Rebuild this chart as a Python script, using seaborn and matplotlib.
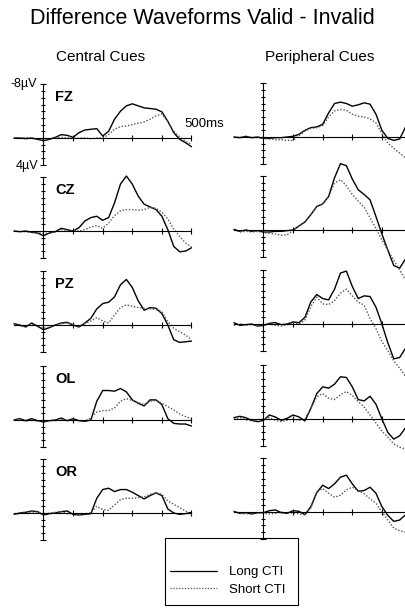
import pandas as pd
import matplotlib.pyplot as plt
from matplotlib.lines import Line2D
from matplotlib.patches import Rectangle
import seaborn as sns

# time base (ms) of every waveform below
times = list(range(-100, 501, 20))

electrodes = ["FZ", "CZ", "PZ", "OL", "OR"]
cues = ["Central Cues", "Peripheral Cues"]
conditions = ["Long CTI", "Short CTI"]

# difference waves in microvolts (negative plotted up)
fz_central_long = [0.0, 0.0, 0.1, 0.0, 0.2, 0.4, 0.2, -0.1, -0.5, -0.4, -0.1, -0.8, -1.2, -1.3, -1.4, -0.3,
                   -1.0, -2.8, -4.0, -4.8, -5.1, -4.8, -4.5, -4.4, -4.3, -3.9, -2.5, -0.8, 0.2, 0.7, 1.3]
fz_central_short = [0.0, 0.1, -0.1, 0.1, 0.1, 0.2, 0.1, 0.0, -0.1, 0.0, 0.0, 0.0, 0.0, 0.1, 0.0, 0.0,
                    -0.5, -1.3, -1.7, -1.8, -2.0, -2.2, -2.4, -2.8, -3.3, -3.6, -2.4, -1.0, -0.2, 0.5, 1.0]
cz_central_long = [0.0, 0.1, 0.0, 0.2, 0.3, 0.7, 0.3, 0.1, -0.4, -0.2, 0.0, -0.5, -1.5, -2.0, -2.2, -1.6,
                   -2.0, -4.2, -7.0, -8.2, -7.0, -5.2, -4.0, -3.6, -3.2, -2.2, -0.2, 2.3, 3.1, 3.0, 2.5]
cz_central_short = [0.0, 0.1, 0.1, 0.2, 0.2, 0.4, 0.3, 0.1, -0.2, -0.1, 0.0, 0.0, -0.2, -0.6, -0.8, -0.4,
                    -1.2, -2.3, -3.0, -3.2, -3.2, -3.1, -3.2, -3.5, -3.4, -2.8, -1.8, -0.3, 0.8, 1.8, 2.4]
pz_central_long = [-0.2, 0.0, 0.3, -0.3, 0.2, 0.7, 0.4, 0.0, -0.3, -0.4, 0.0, 0.3, -0.3, -1.0, -2.4, -3.2,
                   -3.4, -4.2, -6.0, -6.8, -5.6, -3.6, -2.2, -2.6, -2.5, -1.7, 0.0, 2.2, 2.6, 2.5, 2.4]
pz_central_short = [-0.2, 0.1, 0.2, -0.1, 0.1, 0.5, 0.3, 0.0, -0.2, -0.3, 0.0, 0.2, -0.2, -0.6, -1.1, -0.6,
                    -0.3, -1.5, -2.6, -3.0, -2.8, -2.6, -2.5, -2.4, -2.3, -2.0, -0.5, 0.5, 1.0, 1.5, 2.2]
ol_central_long = [0.0, -0.2, 0.1, -0.2, 0.1, 0.3, 0.1, 0.0, -0.3, 0.1, -0.2, 0.1, 0.2, 0.0, -2.8, -4.4,
                   -4.4, -4.3, -4.7, -4.2, -3.0, -2.5, -2.1, -3.0, -3.0, -2.3, -0.2, 0.5, 0.6, 0.6, 0.9]
ol_central_short = [0.0, -0.1, 0.2, 0.0, 0.2, 0.2, 0.1, 0.1, -0.1, 0.1, 0.0, 0.1, 0.1, -0.3, -1.2, -1.4,
                    -1.4, -1.8, -2.8, -3.2, -2.9, -2.6, -2.3, -2.8, -2.9, -2.5, -2.0, -1.5, -0.9, -0.5, -0.2]
or_central_long = [0.2, 0.0, -0.1, -0.3, -0.2, 0.3, 0.1, 0.0, -0.2, -0.3, 0.2, 0.3, 0.2, 0.1, -2.2, -3.5,
                   -3.7, -3.2, -3.5, -3.5, -3.1, -2.6, -2.1, -2.6, -3.0, -2.6, -0.6, 0.0, 0.2, 0.1, -0.1]
or_central_short = [0.2, 0.1, -0.2, -0.1, -0.2, 0.2, 0.0, -0.1, -0.2, 0.1, 0.1, 0.2, 0.1, 0.0, -1.0, -0.5,
                    -0.4, -1.2, -2.0, -2.2, -2.2, -2.3, -2.4, -2.8, -3.0, -2.8, -1.8, -1.3, -0.8, -0.3, 0.4]

fz_peripheral_long = [0.0, 0.1, -0.1, 0.1, 0.0, 0.2, 0.2, 0.1, 0.1, 0.0, -0.1, -0.4, -1.0, -1.4, -1.5, -1.9,
                      -3.6, -5.0, -5.2, -5.0, -4.6, -4.8, -5.1, -4.9, -3.4, -1.0, 0.2, 0.5, 0.3, -1.5, -3.0]
fz_peripheral_short = [0.0, 0.1, 0.0, 0.1, 0.1, 0.2, 0.3, 0.4, 0.4, 0.5, 0.5, -0.2, -0.9, -1.3, -1.4, -1.7,
                       -3.0, -3.9, -4.1, -4.0, -3.4, -3.1, -3.0, -2.7, -2.1, -0.5, 0.9, 1.7, 2.4, 3.1, 3.5]
cz_peripheral_long = [-0.1, 0.2, 0.0, 0.2, 0.1, 0.3, 0.3, 0.2, 0.2, 0.1, 0.0, -0.6, -1.2, -2.3, -3.5, -3.9,
                      -5.0, -7.8, -9.9, -9.6, -7.6, -6.0, -5.3, -4.5, -2.0, 0.6, 3.0, 5.3, 5.7, 4.3, 3.0]
cz_peripheral_short = [0.0, 0.3, 0.2, 0.3, 0.2, 0.4, 0.5, 0.6, 0.8, 0.7, 0.1, -0.6, -1.2, -2.3, -3.5, -3.9,
                       -5.0, -7.0, -7.5, -6.6, -5.3, -4.3, -3.4, -1.8, -0.2, 1.5, 3.0, 4.5, 6.0, 7.4, 8.0]
pz_peripheral_long = [-0.2, 0.2, 0.1, 0.0, 0.3, 0.2, -0.1, -0.2, 0.1, 0.0, -0.3, -0.2, -1.0, -3.3, -4.4, -3.8,
                      -3.6, -5.2, -7.6, -7.9, -5.6, -3.8, -4.2, -4.1, -2.5, 0.0, 2.8, 5.2, 5.0, 3.6, 2.5]
pz_peripheral_short = [0.2, 0.0, 0.2, 0.1, 0.3, 0.3, 0.0, 0.2, 0.3, 0.1, -0.2, 0.0, -0.6, -2.6, -4.0, -3.0,
                       -2.9, -3.5, -4.6, -5.2, -4.2, -3.3, -2.8, -0.8, 0.7, 2.6, 4.0, 5.5, 6.6, 7.8, 8.5]
ol_peripheral_long = [-0.2, -0.4, -0.2, 0.2, 0.4, 0.2, -0.6, -0.3, 0.2, -0.1, -0.6, -0.3, 0.3, -1.6, -3.8, -4.8,
                      -4.6, -5.2, -6.3, -6.2, -4.8, -2.9, -2.7, -3.4, -2.2, 0.0, 2.0, 3.0, 2.5, 1.3, 0.5]
ol_peripheral_short = [0.0, -0.2, 0.1, 0.3, 0.1, 0.0, -0.2, 0.2, 0.4, 0.2, 0.0, 0.2, 0.0, -1.6, -3.3, -3.8,
                       -3.1, -2.9, -3.6, -4.1, -3.5, -2.6, -1.8, -0.6, 0.6, 1.8, 2.7, 3.7, 4.2, 4.5, 4.6]
or_peripheral_long = [-0.1, 0.2, 0.1, 0.3, 0.1, 0.1, -0.2, -0.3, 0.1, 0.2, -0.2, -0.1, 0.4, -0.8, -2.9, -4.0,
                      -3.5, -4.2, -5.2, -5.5, -4.2, -3.1, -3.2, -3.7, -2.8, -0.8, 0.5, 1.4, 1.2, 0.4, 0.0]
or_peripheral_short = [0.0, 0.2, 0.3, 0.1, 0.1, 0.2, 0.3, 0.2, 0.0, 0.2, 0.1, 0.3, 0.4, -0.6, -3.0, -3.5,
                       -2.8, -2.2, -2.5, -3.3, -3.7, -3.2, -2.7, -2.0, -1.3, 0.0, 1.2, 2.4, 2.8, 3.0, 3.1]

waves = {
    ("Central Cues", "FZ"): (fz_central_long, fz_central_short),
    ("Central Cues", "CZ"): (cz_central_long, cz_central_short),
    ("Central Cues", "PZ"): (pz_central_long, pz_central_short),
    ("Central Cues", "OL"): (ol_central_long, ol_central_short),
    ("Central Cues", "OR"): (or_central_long, or_central_short),
    ("Peripheral Cues", "FZ"): (fz_peripheral_long, fz_peripheral_short),
    ("Peripheral Cues", "CZ"): (cz_peripheral_long, cz_peripheral_short),
    ("Peripheral Cues", "PZ"): (pz_peripheral_long, pz_peripheral_short),
    ("Peripheral Cues", "OL"): (ol_peripheral_long, ol_peripheral_short),
    ("Peripheral Cues", "OR"): (or_peripheral_long, or_peripheral_short),
}

rows = []
for (cue, el), series in waves.items():
    for cond, vals in zip(conditions, series):
        for t, v in zip(times, vals):
            rows.append({"cue": cue, "electrode": el, "condition": cond, "time": t, "uv": v})
df = pd.DataFrame(rows)

sns.set_style("white")
plt.rcParams["font.family"] = ["Liberation Sans", "DejaVu Sans"]
plt.rcParams["text.color"] = "black"

W, H = 406, 611
fig = plt.figure(figsize=(W / 100, H / 100), dpi=100)

# pixel scale of the original plot
px_ms = 0.296
px_uv = 6.7
zero_x = {"Central Cues": 43.5, "Peripheral Cues": 263.5}
baseline_y = {"Central Cues": [138, 231, 325, 420, 513],
              "Peripheral Cues": [137, 230, 324, 419, 512]}
xlo, xhi = -110, 520
ylo, yhi = -11, 8.5

for cue in cues:
    for i, el in enumerate(electrodes):
        base = baseline_y[cue][i]
        left = (zero_x[cue] + xlo * px_ms) / W
        width = (xhi - xlo) * px_ms / W
        bottom = 1 - (base + yhi * px_uv) / H
        height = (yhi - ylo) * px_uv / H
        ax = fig.add_axes([left, bottom, width, height])
        ax.patch.set_alpha(0)

        sub = df[(df.cue == cue) & (df.electrode == el)]
        sns.lineplot(data=sub, x="time", y="uv", hue="condition", style="condition",
                     palette={"Long CTI": "black", "Short CTI": "#555555"},
                     dashes={"Long CTI": "", "Short CTI": (1, 1.3)},
                     linewidth=1.0, legend=False, estimator=None, ax=ax)
        for ln in ax.get_lines():
            ln.set_solid_joinstyle("round")

        ax.set_xlim(xlo, xhi)
        ax.set_ylim(yhi, ylo)
        ax.set_xlabel("")
        ax.set_ylabel("")
        for s in ["top", "right"]:
            ax.spines[s].set_visible(False)
        ax.spines["left"].set_position(("data", 0))
        ax.spines["left"].set_bounds(-8, 4)
        ax.spines["bottom"].set_position(("data", 0))
        ax.spines["bottom"].set_bounds(-100, 500)
        for s in ["left", "bottom"]:
            ax.spines[s].set_linewidth(0.8)
            ax.spines[s].set_color("black")
        ax.set_xticks([100, 200, 300, 400, 500])
        ax.set_yticks([-8, 4])
        ax.set_yticks(list(range(-7, 4)), minor=True)
        ax.tick_params(axis="x", direction="inout", length=5, width=0.8,
                       labelbottom=False, bottom=True, color="black")
        ax.tick_params(axis="y", which="major", direction="inout", length=5, width=0.8,
                       labelleft=False, left=True, color="black")
        ax.tick_params(axis="y", which="minor", direction="inout", length=3, width=0.8,
                       left=True, color="black")

        if cue == "Central Cues":
            ax.text(40, -6.1, el, fontsize=10.5, fontweight="bold", va="center", ha="left")
            if el == "FZ":
                ax.text(-23, -8, "-8µV", fontsize=9, ha="right", va="center")
                ax.text(-18, 4.2, "4µV", fontsize=9, ha="right", va="center")
                ax.text(476, -2.1, "500ms", fontsize=9.5, ha="left", va="center")

fig.text(202 / W, 1 - 18 / H, "Difference Waveforms Valid - Invalid", fontsize=15.5,
         ha="center", va="center")
fig.text(101 / W, 1 - 57 / H, "Central Cues", fontsize=11, ha="center", va="center")
fig.text(320 / W, 1 - 57 / H, "Peripheral Cues", fontsize=11, ha="center", va="center")

handles = [Line2D([], [], color="black", lw=0.9),
           Line2D([], [], color="#555555", lw=0.9, dashes=(1, 1.3))]
fig.legend(handles, conditions, loc="center left", bbox_to_anchor=(170 / W, 1 - 581 / H),
           frameon=False, fontsize=9.5, handlelength=3.6, handletextpad=0.9,
           labelspacing=0.4, borderpad=0, borderaxespad=0, labelcolor="black")
fig.add_artist(Rectangle((165 / W, 1 - 605 / H), 133 / W, 67 / H, transform=fig.transFigure,
                         fill=False, edgecolor="black", linewidth=0.8))

plt.savefig("out.png", dpi=100)
plt.close()
